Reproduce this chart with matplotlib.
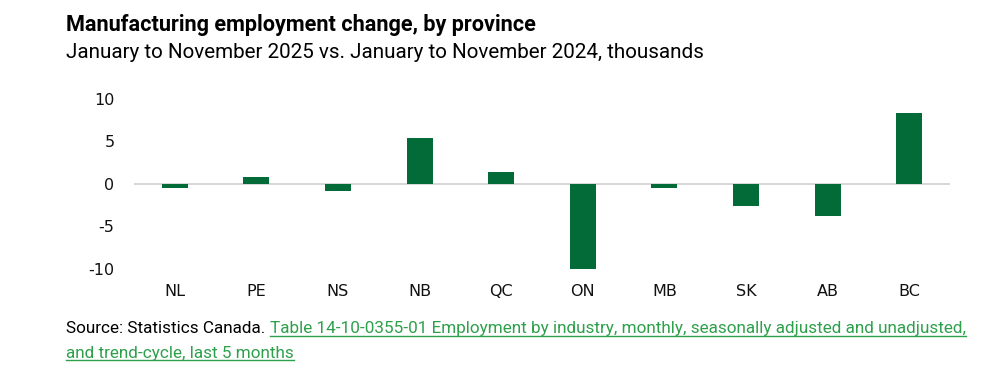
import matplotlib.pyplot as plt
from matplotlib import font_manager

provinces = ['NL', 'PE', 'NS', 'NB', 'QC', 'ON', 'MB', 'SK', 'AB', 'BC']
change = [-0.5, 0.8, -0.8, 5.4, 1.4, -10.0, -0.5, -2.6, -3.8, 8.3]
yticks = [-10, -5, 0, 5, 10]

title = 'Manufacturing employment change, by province'
subtitle = 'January to November 2025 vs. January to November 2024, thousands'
source_plain = 'Source: Statistics Canada. '
source_link1 = 'Table 14-10-0355-01 Employment by industry, monthly, seasonally adjusted and unadjusted,'
source_link2 = 'and trend-cycle, last 5 months'

names = {f.name for f in font_manager.fontManager.ttflist}
narrow = 'Liberation Sans Narrow' if 'Liberation Sans Narrow' in names else 'Roboto'

bar_color = '#036b38'
link_color = '#2ea04c'

fig = plt.figure(figsize=(10, 3.86), dpi=100)
ax = fig.add_axes([0.134, 0.303, 0.816, 0.441])

ax.bar(range(len(provinces)), change, width=0.32, color=bar_color)
ax.axhline(0, color='#d0d0d0', lw=1.2, zorder=0)
ax.set_xlim(-0.5, len(provinces) - 0.5)
ax.set_ylim(-10, 10)
ax.set_yticks(yticks)
ax.set_yticklabels([str(t) for t in yticks])
ax.set_xticks(range(len(provinces)))
ax.set_xticklabels(provinces)
for s in ax.spines.values():
    s.set_visible(False)
ax.tick_params(length=0, labelsize=11.5, colors='#111111')
ax.tick_params(axis='x', pad=11)
ax.tick_params(axis='y', pad=14)

fig.text(0.066, 0.935, title, fontsize=15.6, fontweight='bold', family=narrow, va='center')
fig.text(0.066, 0.865, subtitle, fontsize=14.9, family=narrow, va='center')

t0 = fig.text(0.066, 0.148, source_plain, fontsize=12.3, family=narrow, va='center')
fig.canvas.draw()
r = fig.canvas.get_renderer()
bb = t0.get_window_extent(r).transformed(fig.transFigure.inverted())
t1 = fig.text(bb.x1, 0.148, source_link1, fontsize=12.3, family=narrow, va='center', color=link_color)
t2 = fig.text(0.066, 0.085, source_link2, fontsize=12.3, family=narrow, va='center', color=link_color)
fig.canvas.draw()
for t in (t1, t2):
    b = t.get_window_extent(r).transformed(fig.transFigure.inverted())
    fig.add_artist(plt.Line2D([b.x0, b.x1], [b.y0 + 0.002, b.y0 + 0.002], color=link_color, lw=1, transform=fig.transFigure))

fig.savefig('out.png', dpi=100, facecolor='white')
